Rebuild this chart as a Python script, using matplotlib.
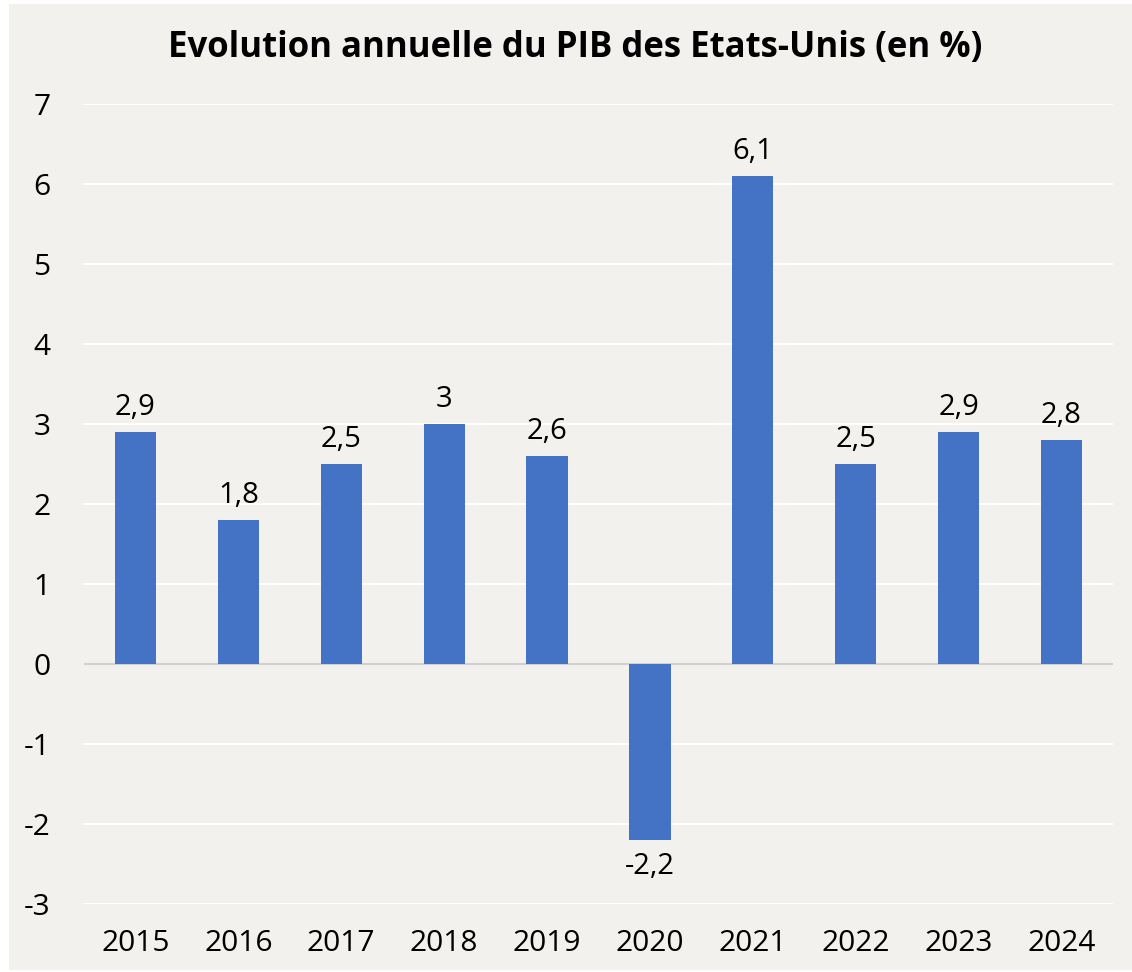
import matplotlib.pyplot as plt
from matplotlib.patches import Rectangle

# Données
annees = ['2015', '2016', '2017', '2018', '2019', '2020', '2021', '2022', '2023', '2024']
croissance = [2.9, 1.8, 2.5, 3.0, 2.6, -2.2, 6.1, 2.5, 2.9, 2.8]
etiquettes = ['2,9', '1,8', '2,5', '3', '2,6', '-2,2', '6,1', '2,5', '2,9', '2,8']
graduations = [-3, -2, -1, 0, 1, 2, 3, 4, 5, 6, 7]

plt.rcParams['font.family'] = ['Open Sans', 'DejaVu Sans']

fond = '#F2F1ED'
bleu = '#4472C4'

fig = plt.figure(figsize=(11.32, 9.72), dpi=100, facecolor='white')
fig.patches.append(Rectangle((9 / 1132, 2 / 972), 1 - 9 / 1132, 1 - 6 / 972,
                             transform=fig.transFigure, facecolor=fond,
                             edgecolor='none', zorder=-5))

ax = fig.add_axes([84 / 1132, 1 - 904 / 972, (1113 - 84) / 1132, 800 / 972])
ax.set_facecolor(fond)

x = list(range(len(annees)))
ax.bar(x, croissance, width=0.4, color=bleu, zorder=3)

for xi, v, lab in zip(x, croissance, etiquettes):
    if v >= 0:
        ax.annotate(lab, (xi, v), xytext=(0, 7), textcoords='offset points',
                    ha='center', va='bottom', fontsize=21)
    else:
        ax.annotate(lab, (xi, v), xytext=(0, -9), textcoords='offset points',
                    ha='center', va='top', fontsize=21)

ax.set_xlim(-0.5, len(annees) - 0.5)
ax.set_ylim(-3, 7)
ax.set_yticks(graduations)
ax.set_yticklabels([str(g) for g in graduations])
ax.set_xticks(x)
ax.set_xticklabels(annees)
ax.grid(axis='y', color='white', linewidth=1.5, zorder=0)
ax.axhline(0, color='#D0D0D0', linewidth=1.5, zorder=2)
ax.tick_params(axis='both', length=0, labelsize=21.5)
ax.tick_params(axis='y', pad=24)
ax.tick_params(axis='x', pad=18)
for s in ax.spines.values():
    s.set_visible(False)

fig.text(0.508, 1 - 48 / 972, 'Evolution annuelle du PIB des Etats-Unis (en %)',
         ha='center', va='center', fontsize=25, fontweight='bold')

fig.savefig('out.png', dpi=100, facecolor=fig.get_facecolor())
